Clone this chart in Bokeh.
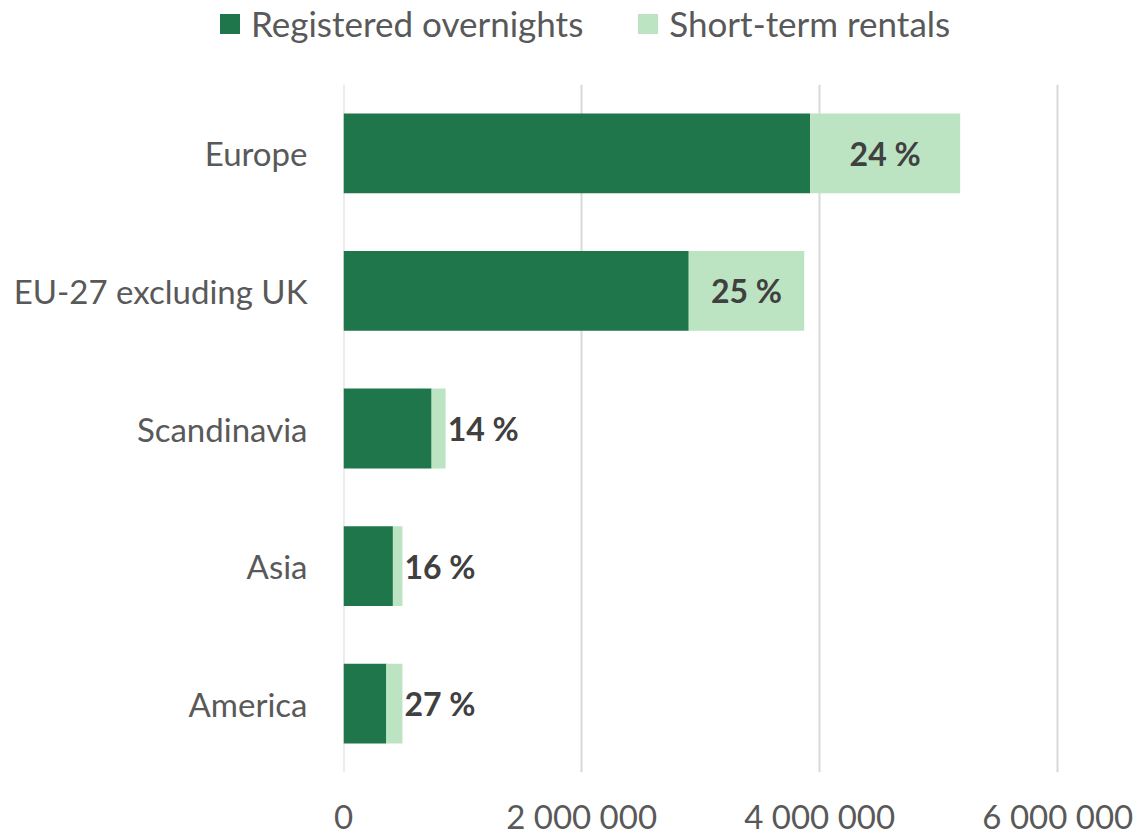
from bokeh.plotting import figure
from bokeh.models import ColumnDataSource, FactorRange, FixedTicker, Legend, LegendItem, Range1d, Span
from bokeh.core.properties import value
from bokeh.embed import file_html
from bokeh.resources import INLINE

categories = ["Europe", "EU-27 excluding UK", "Scandinavia", "Asia", "America"]
registered = [3920000, 2900000, 740000, 415000, 360000]
short_term = [1260000, 970000, 118000, 80000, 135000]
pct_labels = ["24 %", "25 %", "14 %", "16 %", "27 %"]
inside_label = [True, True, False, False, False]
x_ticks = [0, 2000000, 4000000, 6000000]
x_tick_labels = ["0", "2 000 000", "4 000 000", "6 000 000"]
series_names = ["Registered overnights", "Short-term rentals"]

DARK = "#1E764A"
LIGHT = "#BCE4C3"
GRAY = "#595959"
FONT = "Lato"

totals = [r + s for r, s in zip(registered, short_term)]
src = ColumnDataSource(dict(cat=categories, reg=registered, short=short_term, total=totals))

p = figure(
    y_range=FactorRange(*reversed(categories), range_padding=0),
    x_range=Range1d(0, 6300000),
    frame_width=750, frame_height=688,
    min_border_left=343, min_border_right=44, min_border_top=0, min_border_bottom=60,
    output_backend="svg", toolbar_location=None,
)
p.outline_line_color = None

p.add_layout(Span(location=0, dimension="height", line_color="#D9D9D9", line_width=2, level="underlay"))

r1 = p.hbar(y="cat", left=0, right="reg", height=0.58, source=src,
            fill_color=DARK, line_color=None)
r2 = p.hbar(y="cat", left="reg", right="total", height=0.58, source=src,
            fill_color=LIGHT, line_color=None)

in_idx = [i for i, f in enumerate(inside_label) if f]
out_idx = [i for i, f in enumerate(inside_label) if not f]
src_in = ColumnDataSource(dict(
    cat=[categories[i] for i in in_idx],
    x=[registered[i] + short_term[i] / 2 for i in in_idx],
    t=[pct_labels[i] for i in in_idx]))
src_out = ColumnDataSource(dict(
    cat=[categories[i] for i in out_idx],
    x=[totals[i] for i in out_idx],
    t=[pct_labels[i] for i in out_idx]))
p.text(x="x", y="cat", text="t", source=src_in, text_align="center", text_baseline="middle",
       text_font=value(FONT), text_font_style="bold", text_font_size="32px", text_color="#404040")
p.text(x="x", y="cat", text="t", source=src_out, text_align="left", text_baseline="middle",
       x_offset=2,
       text_font=value(FONT), text_font_style="bold", text_font_size="32px", text_color="#404040")

p.xaxis.ticker = FixedTicker(ticks=x_ticks)
p.xaxis.major_label_overrides = {t: l for t, l in zip(x_ticks, x_tick_labels)}
for ax in (p.xaxis[0], p.yaxis[0]):
    ax.axis_line_color = None
    ax.major_tick_line_color = None
    ax.minor_tick_line_color = None
    ax.major_label_text_font = FONT
    ax.major_label_text_font_size = "33px"
    ax.major_label_text_color = GRAY
p.xaxis.major_label_standoff = 17
p.yaxis.major_label_standoff = 30

p.ygrid.grid_line_color = None
p.xgrid.ticker = FixedTicker(ticks=x_ticks)
p.xgrid.grid_line_color = "#D9D9D9"
p.xgrid.grid_line_width = 2

# Legend strip above the chart (separate root)
lg = figure(width=1137, height=84, x_range=Range1d(0, 1), y_range=Range1d(0, 1),
            x_axis_location=None, y_axis_location=None,
            min_border=0, output_backend="svg", toolbar_location=None)
lg.outline_line_color = None
lg.grid.grid_line_color = None
e1 = lg.hbar(y=[5], left=[5], right=[6], height=0.5, fill_color=DARK, line_color=None)
e2 = lg.hbar(y=[5], left=[5], right=[6], height=0.5, fill_color=LIGHT, line_color=None)
legend = Legend(
    items=[LegendItem(label=series_names[0], renderers=[e1]),
           LegendItem(label=series_names[1], renderers=[e2])],
    orientation="horizontal", location=(217, 40),
    glyph_width=25, glyph_height=25, label_standoff=9, spacing=52,
    padding=0, margin=0, border_line_color=None, background_fill_alpha=0,
    label_text_font=FONT, label_text_font_size="35px", label_text_color=GRAY,
)
lg.add_layout(legend, "center")

open("out.html", "w").write(file_html([lg, p], INLINE))
